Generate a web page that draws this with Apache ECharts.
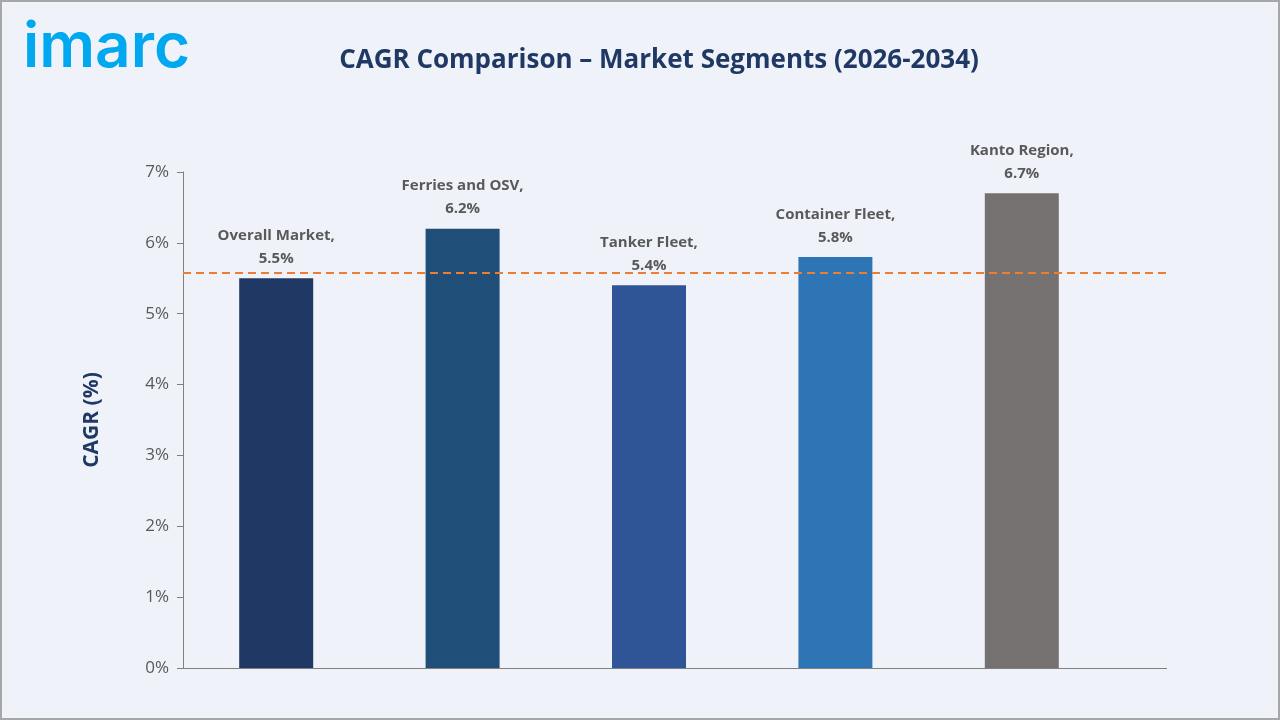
<!DOCTYPE html>
<html><head><meta charset="utf-8">
<script src="https://cdn.jsdelivr.net/npm/echarts@6/dist/echarts.min.js"></script>
<style>html,body{margin:0;padding:0;background:#a6a6a6}#c{position:absolute;left:2px;top:2px;width:1276px;height:716px;background:#eff3f9}</style>
</head><body><div id="c"></div>
<script>
const categories=["Overall Market","Ferries and OSV","Tanker Fleet","Container Fleet","Kanto Region"];
const values=[5.5,6.2,5.4,5.8,6.7];
const colors=["#203864","#1f4e79","#2f5597","#2e75b6","#767171"];
const refLine=5.58;
const chart=echarts.init(document.getElementById('c'));
chart.setOption({
  backgroundColor:'#eff3f9',
  title:[{text:'CAGR Comparison – Market Segments (2026-2034)',left:652,top:41,textAlign:'center',textStyle:{fontFamily:'Open Sans',fontSize:26,fontWeight:'bold',color:'#1f3864'}},
         {text:'imarc',left:16,top:10,textStyle:{fontFamily:'Inter',fontSize:62,fontWeight:600,color:'#00a8f0'}}],
  grid:{left:181,right:163,top:170,bottom:50},
  xAxis:{type:'category',data:categories,axisTick:{show:false},axisLabel:{show:false},axisLine:{lineStyle:{color:'#808080'}}},
  yAxis:{type:'value',min:0,max:7,interval:1,name:'CAGR (%)',nameLocation:'middle',nameGap:80,nameRotate:90,
    nameTextStyle:{fontFamily:'Open Sans',fontSize:21,fontWeight:'bold',color:'#1f3864'},
    splitLine:{show:false},axisLine:{show:true,lineStyle:{color:'#808080'}},axisTick:{show:true,length:6,lineStyle:{color:'#808080'}},
    axisLabel:{formatter:v=>v+'%',fontFamily:'Open Sans',fontSize:17,color:'#595959',margin:14}},
  graphic:[{type:'line',shape:{x1:1110,y1:666.5,x2:1165,y2:666.5},style:{stroke:'#808080',lineWidth:1}}],
  series:[{type:'bar',barWidth:74,
    data:values.map((v,i)=>({value:v,itemStyle:{color:colors[i]}})),
    label:{show:true,position:'top',distance:8,lineHeight:23,fontFamily:'Open Sans',fontSize:15,fontWeight:'bold',color:'#595959',
      formatter:p=>categories[p.dataIndex]+',\n'+p.value.toFixed(1)+'%'},
    markLine:{silent:true,symbol:'none',label:{show:false},lineStyle:{type:[8,5],color:'#ed7d31',width:2},data:[[{yAxis:refLine,x:181},{yAxis:refLine,x:1165}]]}
  }]
});
</script></body></html>
